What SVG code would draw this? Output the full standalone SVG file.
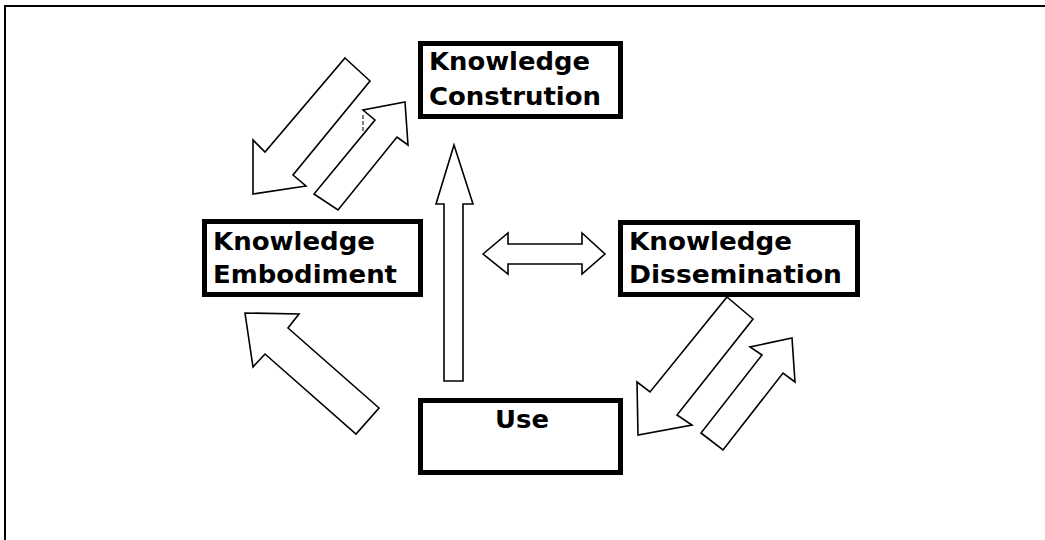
<svg xmlns="http://www.w3.org/2000/svg" width="1045" height="540" viewBox="0 0 1045 540">
<style>
.box{fill:#fff;stroke:#000;stroke-width:5}
.lbl{font-family:"DejaVu Sans","Liberation Sans",sans-serif;font-weight:bold;font-size:24.5px;fill:#000}
.arr{fill:#fff;stroke:#000;stroke-width:1.6;stroke-linejoin:miter}
</style>
<rect x="0" y="0" width="1045" height="540" fill="#fff"/>
<path d="M5 545 V6 H1050" fill="none" stroke="#000" stroke-width="2"/>
<g id="connectors">
<polygon class="arr" points="345,58 370,81 293,175 306,186 253,194 253,140 265,152"/>
<polygon class="arr" points="314,194 338,210 397,137 408,145 405,102 363,110 375,120"/>
<line x1="363" y1="115" x2="363" y2="133" stroke="#000" stroke-width="1" stroke-dasharray="4,2"/>
<polygon class="arr" points="454,145 473,204 463,204 463,381 444,381 444,204 436,204"/>
<polygon class="arr" points="483,254 508,233 508,244 582,244 582,233 605,254 582,274 582,264 508,264 508,274"/>
<polygon class="arr" points="245,313 299,314 288,328 379,408 356,434 265,354 253,367"/>
<polygon class="arr" points="727,297 753,319 677,415 692,425 638,435 637,382 650,392"/>
<polygon class="arr" points="701,433 723,450 783,373 795,382 792,338 750,347 762,355"/>
</g>
<g id="construction">
<rect class="box" x="420.5" y="43.5" width="200" height="73"/>
<text class="lbl" x="429" y="70" textLength="161" lengthAdjust="spacingAndGlyphs">Knowledge</text>
<text class="lbl" x="429" y="105" textLength="172" lengthAdjust="spacingAndGlyphs">Constrution</text>
</g>
<g id="embodiment">
<rect class="box" x="204.5" y="221.5" width="216" height="73"/>
<text class="lbl" x="213" y="250" textLength="162" lengthAdjust="spacingAndGlyphs">Knowledge</text>
<text class="lbl" x="213" y="283" textLength="184" lengthAdjust="spacingAndGlyphs">Embodiment</text>
</g>
<g id="dissemination">
<rect class="box" x="620.5" y="222.5" width="237" height="72"/>
<text class="lbl" x="629" y="250" textLength="163" lengthAdjust="spacingAndGlyphs">Knowledge</text>
<text class="lbl" x="629" y="283" textLength="213" lengthAdjust="spacingAndGlyphs">Dissemination</text>
</g>
<g id="use">
<rect class="box" x="420.5" y="400.5" width="200" height="72"/>
<text class="lbl" x="495" y="428" textLength="54" lengthAdjust="spacingAndGlyphs">Use</text>
</g>
</svg>
